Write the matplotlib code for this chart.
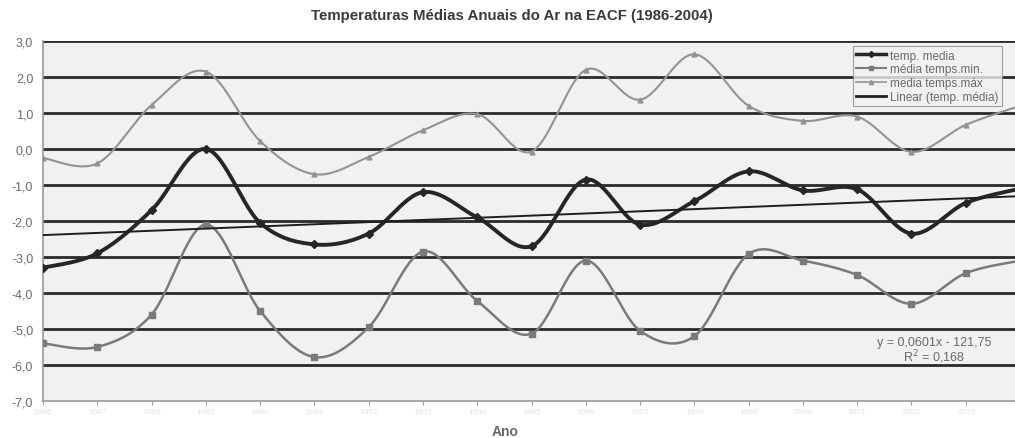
import numpy as np
import matplotlib.pyplot as plt
from matplotlib.lines import Line2D

plt.rcParams['font.family'] = ['Liberation Sans', 'DejaVu Sans']

anos = list(range(1986, 2005))
temp_media = [-3.3, -2.9, -1.7, 0.0, -2.05, -2.65, -2.35, -1.2, -1.9, -2.7,
              -0.85, -2.1, -1.45, -0.62, -1.15, -1.12, -2.35, -1.5, -1.1]
temp_min = [-5.4, -5.5, -4.6, -2.1, -4.5, -5.78, -4.95, -2.85, -4.22, -5.13,
            -3.1, -5.05, -5.2, -2.92, -3.1, -3.5, -4.3, -3.45, -3.1]
temp_max = [-0.25, -0.4, 1.22, 2.15, 0.22, -0.7, -0.22, 0.52, 0.97, -0.07,
            2.2, 1.37, 2.63, 1.2, 0.78, 0.9, -0.08, 0.67, 1.2]
trend_a = 0.0601
trend_b = -121.75
y_ticks = [3, 2, 1, 0, -1, -2, -3, -4, -5, -6, -7]


def suaviza(x, y, n=30):
    # curva suavizada tipo Excel (bezier com tangentes catmull-rom)
    x = np.asarray(x, float)
    y = np.asarray(y, float)
    px = np.concatenate([[x[0]], x, [x[-1]]])
    py = np.concatenate([[y[0]], y, [y[-1]]])
    xs, ys = [], []
    t = np.linspace(0, 1, n)
    for i in range(1, len(px) - 2):
        p0 = np.array([px[i], py[i]])
        p3 = np.array([px[i + 1], py[i + 1]])
        p1 = p0 + (p3 - np.array([px[i - 1], py[i - 1]])) / 6
        p2 = p3 - (np.array([px[i + 2], py[i + 2]]) - p0) / 6
        b = ((1 - t) ** 3)[:, None] * p0 + (3 * (1 - t) ** 2 * t)[:, None] * p1 \
            + (3 * (1 - t) * t ** 2)[:, None] * p2 + (t ** 3)[:, None] * p3
        xs.append(b[:, 0])
        ys.append(b[:, 1])
    return np.concatenate(xs), np.concatenate(ys)


fig = plt.figure(figsize=(10.15, 4.39), dpi=100)
ax = fig.add_axes([43 / 1015, 37 / 439, 977 / 1015, 360 / 439])
ax.set_facecolor('#f0f1f2')

for v in y_ticks[:-1]:
    ax.axhline(v, color='#2a2a2a', lw=2.0, zorder=1)

# media temps max
sx, sy = suaviza(anos, temp_max)
ax.plot(sx, sy, color='#939393', lw=1.5, zorder=2)
ax.plot(anos, temp_max, ls='none', marker='^', ms=3.5, color='#939393', zorder=3)

# media temps min
sx, sy = suaviza(anos, temp_min)
ax.plot(sx, sy, color='#7a7a7a', lw=1.8, zorder=2)
ax.plot(anos, temp_min, ls='none', marker='s', ms=4.5, color='#7a7a7a', zorder=3)

# temp media
sx, sy = suaviza(anos, temp_media)
ax.plot(sx, sy, color='#262626', lw=2.8, zorder=4)
ax.plot(anos, temp_media, ls='none', marker='D', ms=4.5, color='#262626', zorder=5)

# linha de tendencia
xt = np.array([anos[0], anos[-1]])
ax.plot(xt, trend_a * xt + trend_b, color='#1e1e1e', lw=1.4, zorder=4)

ax.set_xlim(anos[0], anos[-1])
ax.set_ylim(-7, 3)
ax.set_yticks(y_ticks)
ax.yaxis.set_major_formatter(plt.FuncFormatter(lambda v, p: ('%.1f' % v).replace('.', ',')))
ax.tick_params(axis='y', length=0, pad=7, labelsize=9, labelcolor='#6a6a6a')
ax.set_xticks(anos)
ax.set_xticklabels([str(a) for a in anos[:-1]] + [''], fontsize=6, color='#e4e4e4')
ax.tick_params(axis='x', length=3, color='#a0a0a0', pad=2)

for s in ['top', 'right']:
    ax.spines[s].set_visible(False)
ax.spines['left'].set_color('#9a9a9a')
ax.spines['bottom'].set_color('#9a9a9a')
ax.spines['left'].set_linewidth(1.2)
ax.spines['bottom'].set_linewidth(1.2)

handles = [
    Line2D([], [], color='#262626', lw=2.5, marker='D', ms=3),
    Line2D([], [], color='#7a7a7a', lw=1.5, marker='s', ms=3),
    Line2D([], [], color='#939393', lw=1.2, marker='^', ms=3),
    Line2D([], [], color='#1e1e1e', lw=2.0),
]
labels = ['temp. media', 'média temps.min.', 'media temps.máx', 'Linear (temp. média)']
leg = ax.legend(handles, labels, loc='upper right', bbox_to_anchor=(0.9816, 0.986),
                fontsize=8.5, frameon=True, fancybox=False, handlelength=2.5,
                handletextpad=0.35, borderpad=0.3, labelspacing=0.15,
                borderaxespad=0)
leg.get_frame().set_edgecolor('#8a8a8a')
leg.get_frame().set_facecolor('#f0f1f2')
leg.get_frame().set_linewidth(0.8)
for t in leg.get_texts():
    t.set_color('#6a6a6a')

fig.text(934 / 1015, (439 - 343) / 439, 'y = 0,0601x - 121,75', fontsize=9,
         color='#6a6a6a', ha='center', va='center')
fig.text(934 / 1015, (439 - 357) / 439, 'R$^2$ = 0,168', fontsize=9,
         color='#6a6a6a', ha='center', va='center')

fig.text(512 / 1015, (439 - 16) / 439, 'Temperaturas Médias Anuais do Ar na EACF (1986-2004)',
         fontsize=10.8, fontweight='bold', color='#3a3a3a', ha='center', va='center')
fig.text(505 / 1015, (439 - 425) / 439, 'Ano', fontsize=10, fontweight='bold',
         color='#6a6a6a', ha='center', va='top')

fig.savefig('out.png', dpi=100)
